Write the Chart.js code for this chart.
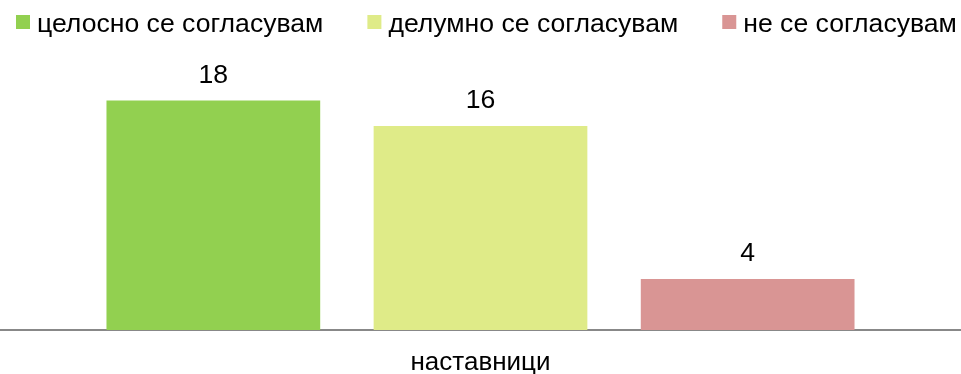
<!DOCTYPE html>
<html>
<head>
<meta charset="utf-8">
<script src="https://cdn.jsdelivr.net/npm/chart.js@4"></script>
<style>
  html, body { margin: 0; padding: 0; background: #fff; }
  #wrap { width: 961px; height: 374px; }
</style>
</head>
<body>
<div id="wrap"><canvas id="grafico" width="961" height="374"></canvas></div>
<script>
// data
const categorias = ['наставници'];
const series = ['целосно се согласувам', 'делумно се согласувам', 'не се согласувам'];
const valores = [[18], [16], [4]];
const colores = ['#92D050', '#DFEB88', '#D99594'];

const fuente = '26.6px "Liberation Sans", Arial, sans-serif';

// draws the value above every bar
const etiquetas = {
    id: 'etiquetas',
    afterDatasetsDraw(chart) {
        const ctx = chart.ctx;
        ctx.save();
        ctx.font = fuente;
        ctx.fillStyle = '#000';
        ctx.textAlign = 'center';
        ctx.textBaseline = 'alphabetic';
        chart.data.datasets.forEach((ds, i) => {
            chart.getDatasetMeta(i).data.forEach((bar, j) => {
                ctx.fillText(String(ds.data[j]), bar.x, bar.y - 18);
            });
        });
        ctx.restore();
    }
};

// legend drawn by hand: small square, short gap, text
const leyenda = {
    id: 'leyenda',
    afterDraw(chart) {
        const ctx = chart.ctx;
        const caja = 14, hueco = 7, separacion = 44;
        ctx.save();
        ctx.font = fuente;
        const anchos = chart.data.datasets.map(ds => caja + hueco + ctx.measureText(ds.label).width);
        let x = 16;
        ctx.textBaseline = 'alphabetic';
        ctx.textAlign = 'left';
        chart.data.datasets.forEach((ds, i) => {
            ctx.fillStyle = ds.backgroundColor;
            ctx.fillRect(x, 15, caja, caja);
            ctx.fillStyle = '#000';
            ctx.fillText(ds.label, x + caja + hueco, 32);
            x += anchos[i] + separacion;
        });
        ctx.restore();
    }
};

new Chart(document.getElementById('grafico'), {
    type: 'bar',
    data: {
        labels: categorias,
        datasets: series.map((nombre, i) => ({
            label: nombre,
            data: valores[i],
            backgroundColor: colores[i],
            borderWidth: 0,
            categoryPercentage: 0.834,
            barPercentage: 0.8,
        })),
    },
    options: {
        responsive: false,
        animation: false,
        layout: { padding: { top: 75, left: 0, right: 0, bottom: 0 } },
        plugins: {
            legend: { display: false },
            tooltip: { enabled: false },
        },
        scales: {
            x: {
                grid: { display: false },
                border: { display: true, color: '#888', width: 2 },
                ticks: {
                    color: '#000',
                    padding: 9,
                    font: { family: '"Liberation Sans", Arial, sans-serif', size: 26 },
                },
                afterFit(scale) { scale.height = 44; },
            },
            y: {
                display: false,
                min: 0,
                max: 20,
            },
        },
    },
    plugins: [etiquetas, leyenda],
});
</script>
</body>
</html>
